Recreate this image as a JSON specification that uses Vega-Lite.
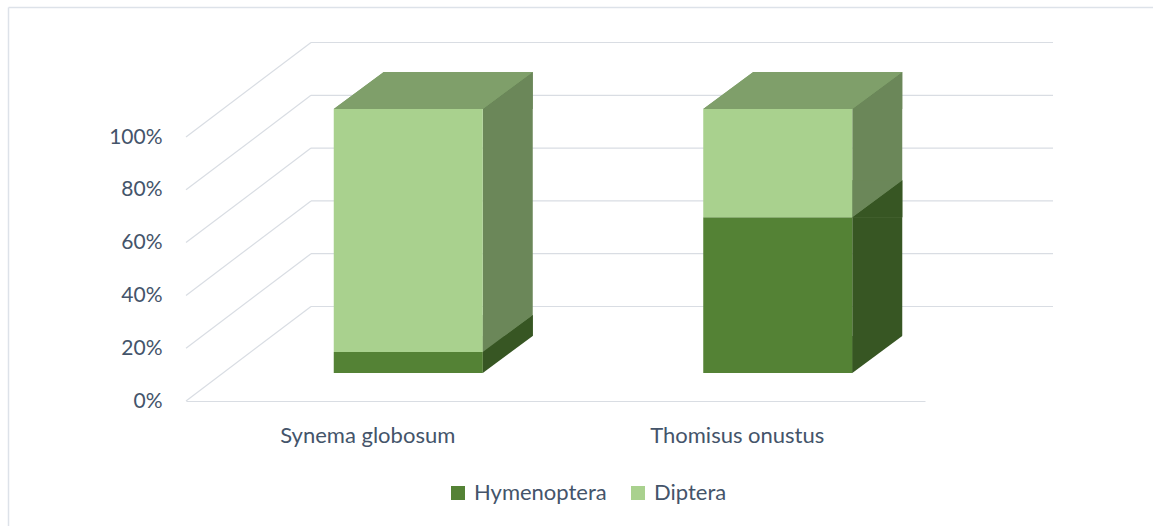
{
  "$schema": "https://vega.github.io/schema/vega-lite/v6.json",
  "width": 739,
  "height": 264,
  "autosize": {"type": "none"},
  "padding": {"left": 186, "top": 137, "right": 228, "bottom": 125},
  "background": "white",
  "config": {
    "view": {"stroke": null},
    "font": "Lato",
    "axisX": {"domainColor": "#d9dde3", "domainWidth": 1.2, "ticks": false, "labelPadding": 24, "labelFontSize": 22, "labelColor": "#44546a", "labelAngle": 0, "labelOffset": -3, "title": null},
    "axisY": {"grid": false, "domain": false, "ticks": false, "labelPadding": 24, "labelFontSize": 21, "labelColor": "#44546a", "title": null}
  },
  "datasets": {
    "shares": [
      {"species": "Synema globosum", "group": "Hymenoptera", "share": 0.08},
      {"species": "Synema globosum", "group": "Diptera", "share": 0.92},
      {"species": "Thomisus onustus", "group": "Hymenoptera", "share": 0.59},
      {"species": "Thomisus onustus", "group": "Diptera", "share": 0.41}
    ],
    "grid": [{"v": 0}, {"v": 0.2}, {"v": 0.4}, {"v": 0.6}, {"v": 0.8}, {"v": 1}]
  },
  "layer": [
    {
      "data": {"name": "grid"},
      "transform": [{"filter": "datum.v === 1"}],
      "mark": {"type": "rule", "color": "#dde2e9", "strokeWidth": 1.5, "xOffset": -177.5, "x2Offset": 300, "yOffset": -129.5},
      "encoding": {
        "x": {"datum": "Synema globosum", "bandPosition": 0, "type": "nominal"},
        "x2": {"datum": "Thomisus onustus", "bandPosition": 1},
        "y": {"field": "v", "type": "quantitative", "title": null}
      }
    },
    {
      "data": {"name": "grid"},
      "transform": [{"filter": "datum.v === 1"}],
      "mark": {"type": "rule", "color": "#dde2e9", "strokeWidth": 1.5, "xOffset": -177.5, "yOffset": -129.5, "y2Offset": 130},
      "encoding": {
        "x": {"datum": "Synema globosum", "bandPosition": 0, "type": "nominal"},
        "y": {"field": "v", "type": "quantitative", "title": null},
        "y2": {"datum": 0}
      }
    },
    {
      "data": {"name": "grid"},
      "mark": {"type": "rule", "color": "#d9dde3", "strokeWidth": 1.2, "xOffset": 125, "x2Offset": 128, "yOffset": -94.5},
      "encoding": {
        "x": {"datum": "Synema globosum", "bandPosition": 0, "type": "nominal", "scale": {"paddingInner": 0, "paddingOuter": 0}},
        "x2": {"datum": "Thomisus onustus", "bandPosition": 1},
        "y": {"field": "v", "type": "quantitative", "scale": {"domain": [0, 1]}, "axis": {"values": [0, 0.2, 0.4, 0.6, 0.8, 1], "format": ".0%"}, "title": null}
      }
    },
    {
      "data": {"name": "grid"},
      "mark": {"type": "rule", "color": "#d9dde3", "strokeWidth": 1.2, "x2Offset": 125, "y2Offset": -94.5},
      "encoding": {
        "x": {"datum": "Synema globosum", "bandPosition": 0, "type": "nominal"},
        "x2": {"datum": "Synema globosum", "bandPosition": 0},
        "y": {"field": "v", "type": "quantitative", "title": null},
        "y2": {"field": "v"}
      }
    },
    {
      "data": {"name": "shares"},
      "transform": [
        {"stack": "share", "groupby": ["species"], "sort": [{"field": "group", "order": "descending"}], "as": ["s0", "s1"]}
      ],
      "layer": [
        {
          "mark": {"type": "bar", "width": 50, "xOffset": 137, "yOffset": -65, "y2Offset": -28},
          "encoding": {
            "x": {"field": "species", "type": "nominal", "title": null},
            "y": {"field": "s1", "type": "quantitative", "title": null},
            "y2": {"field": "s0"},
            "color": {"condition": {"test": "datum.group === 'Hymenoptera'", "value": "#375623"}, "value": "#6b8759"}
          }
        },
        {
          "mark": {"type": "point", "shape": "M -1 0.74 L 1 0.74 L 1 -0.74 Z", "size": 2500, "filled": true, "opacity": 1, "strokeWidth": 0, "xOffset": 137, "yOffset": -46.5},
          "encoding": {
            "x": {"field": "species", "type": "nominal", "title": null},
            "y": {"field": "s1", "type": "quantitative", "title": null},
            "color": {"condition": {"test": "datum.group === 'Hymenoptera'", "value": "#375623"}, "value": "#6b8759"}
          }
        },
        {
          "mark": {"type": "point", "shape": "M -1 -0.74 L 1 -0.74 L -1 0.74 Z", "size": 2500, "filled": true, "opacity": 1, "strokeWidth": 0, "xOffset": 137, "yOffset": -46.5},
          "encoding": {
            "x": {"field": "species", "type": "nominal", "title": null},
            "y": {"field": "s0", "type": "quantitative", "title": null},
            "color": {"condition": {"test": "datum.group === 'Hymenoptera'", "value": "#375623"}, "value": "#6b8759"}
          }
        },
        {
          "mark": {"type": "point", "shape": "M -1.08 0.8 L 1.08 0.8 L 1.08 -0.8 Z", "size": 2500, "filled": true, "opacity": 1, "strokeWidth": 0, "color": "white", "xOffset": 137, "yOffset": -46.5},
          "encoding": {
            "x": {"field": "species", "type": "nominal", "title": null},
            "y": {"field": "s0", "type": "quantitative", "title": null},
            "opacity": {"condition": {"test": "datum.s0 === 0", "value": 1}, "value": 0}
          }
        },
        {
          "mark": {"type": "bar", "width": 149, "xOffset": 37.5, "yOffset": -28, "y2Offset": -28},
          "encoding": {
            "x": {"field": "species", "type": "nominal", "title": null},
            "y": {"field": "s1", "type": "quantitative", "title": null},
            "y2": {"field": "s0"},
            "color": {
              "field": "group",
              "type": "nominal",
              "scale": {"domain": ["Hymenoptera", "Diptera"], "range": ["#548235", "#a9d18e"]},
              "legend": {"orient": "none", "legendX": 261, "legendY": 345, "direction": "horizontal", "title": null, "symbolType": "square", "symbolSize": 196, "symbolStrokeWidth": 0, "labelFontSize": 22, "labelColor": "#44546a", "columnPadding": 20, "labelOffset": 5}
            }
          }
        },
        {
          "mark": {"type": "point", "shape": "M -0.995 0.185 L 0.495 0.185 L 0.995 -0.185 L -0.495 -0.185 Z", "size": 40000, "filled": true, "opacity": 1, "strokeWidth": 0, "color": "#7f9f6a", "xOffset": 62.5, "yOffset": -46.5},
          "encoding": {
            "x": {"field": "species", "type": "nominal", "title": null},
            "y": {"datum": 1, "type": "quantitative"}
          }
        }
      ]
    }
  ]
}
